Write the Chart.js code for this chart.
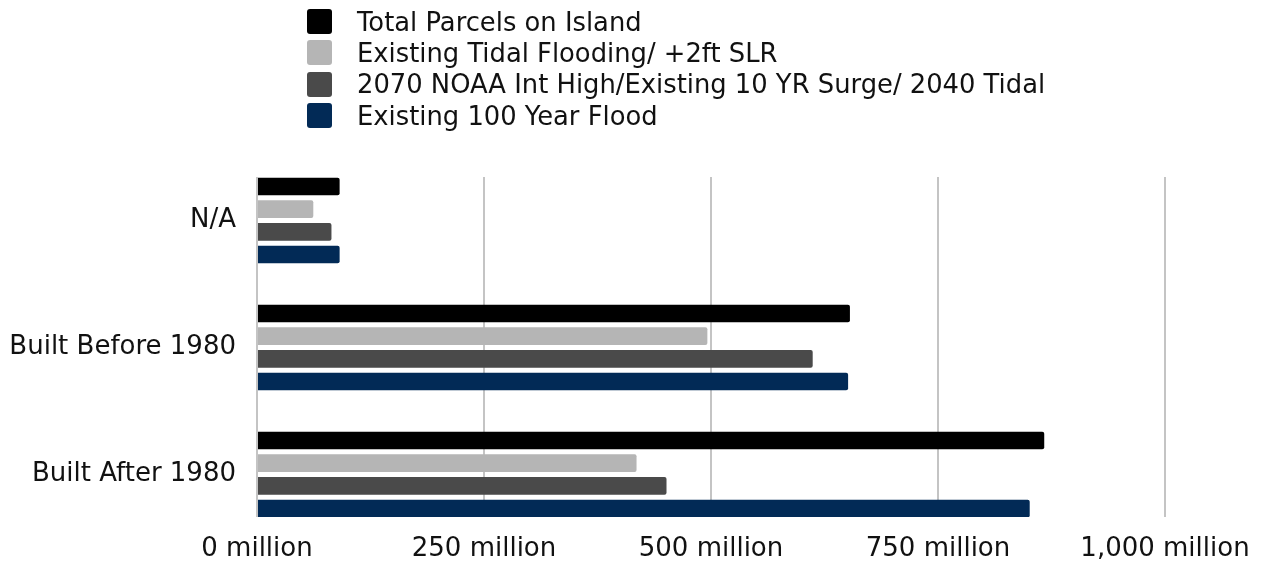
<!DOCTYPE html>
<html>
<head>
<meta charset="utf-8">
<script src="https://cdn.jsdelivr.net/npm/chart.js@4/dist/chart.umd.min.js"></script>
<style>
  html, body { margin: 0; padding: 0; background: #fff; }
  #wrap { position: relative; width: 1263px; height: 562px; overflow: hidden; }
  #legend { position: absolute; left: 307px; top: 6px; font-family: "DejaVu Sans", sans-serif; font-size: 25.8px; color: #111; }
  .item { display: flex; align-items: center; height: 31.3px; white-space: nowrap; }
  .box { width: 25px; height: 25px; border-radius: 3px; margin-right: 25px; flex: none; }
</style>
</head>
<body>
<div id="wrap">
  <canvas id="chart" width="1263" height="562"></canvas>
  <div id="legend"></div>
</div>
<script>
// categories (top to bottom) and series, values in millions
const categories = ["N/A", "Built Before 1980", "Built After 1980"];
const seriesNames = [
  "Total Parcels on Island",
  "Existing Tidal Flooding/ +2ft SLR",
  "2070 NOAA Int High/Existing 10 YR Surge/ 2040 Tidal",
  "Existing 100 Year Flood"
];
const totalParcels = [91, 653, 867];
const tidalFlooding = [62, 496, 418];
const noaaIntHigh = [82, 612, 451];
const flood100Year = [91, 651, 851];
const seriesColors = ["#000000", "#b5b5b5", "#4a4a4a", "#022a56"];
const xTickValues = [0, 250, 500, 750, 1000];

const FONT = "'DejaVu Sans', sans-serif";
const Y_MIN = -0.3425, Y_MAX = 2.3346;
const allSeries = [totalParcels, tidalFlooding, noaaIntHigh, flood100Year];

const datasets = allSeries.map((vals, s) => ({
  label: seriesNames[s],
  data: vals.map((v, i) => ({ x: v, y: i })),
  backgroundColor: seriesColors[s],
  borderRadius: 2,
  borderSkipped: "start",
  categoryPercentage: 0.714,
  barPercentage: 0.78
}));

const chart = new Chart(document.getElementById("chart"), {
  type: "bar",
  data: { datasets },
  options: {
    indexAxis: "y",
    responsive: false,
    animation: false,
    layout: { padding: { top: 177, right: 98, bottom: 0, left: 0 } },
    plugins: { legend: { display: false }, tooltip: { enabled: false } },
    scales: {
      x: {
        type: "linear",
        min: 0,
        max: 1000,
        afterBuildTicks: s => { s.ticks = xTickValues.map(v => ({ value: v })); },
        afterFit: s => {
          s.height = 45;
          s.paddingLeft = 0;
          s.paddingRight = 0;
        },
        grid: { color: "#c4c4c4", lineWidth: 2, drawTicks: false },
        border: { display: false },
        ticks: {
          padding: 17,
          color: "#111",
          font: { family: FONT, size: 26 },
          maxRotation: 0,
          callback: v => v.toLocaleString("en-US") + " million"
        }
      },
      y: {
        type: "linear",
        reverse: true,
        offset: false,
        bounds: "data",
        min: Y_MIN,
        max: Y_MAX,
        afterBuildTicks: s => {
          s.ticks = categories.map((c, i) => ({ value: i }));
          s.min = Y_MIN;
          s.max = Y_MAX;
        },
        afterFit: s => { s.width = 257; },
        grid: { display: false, drawTicks: false },
        border: { display: false },
        ticks: {
          padding: 21,
          color: "#111",
          font: { family: FONT, size: 26 },
          callback: v => categories[v]
        }
      }
    }
  }
});

// legend as a vertical list, built from the chart's datasets
const legendEl = document.getElementById("legend");
chart.data.datasets.forEach(ds => {
  const row = document.createElement("div");
  row.className = "item";
  row.innerHTML = `<span class="box" style="background:${ds.backgroundColor}"></span><span>${ds.label}</span>`;
  legendEl.appendChild(row);
});
</script>
</body>
</html>
